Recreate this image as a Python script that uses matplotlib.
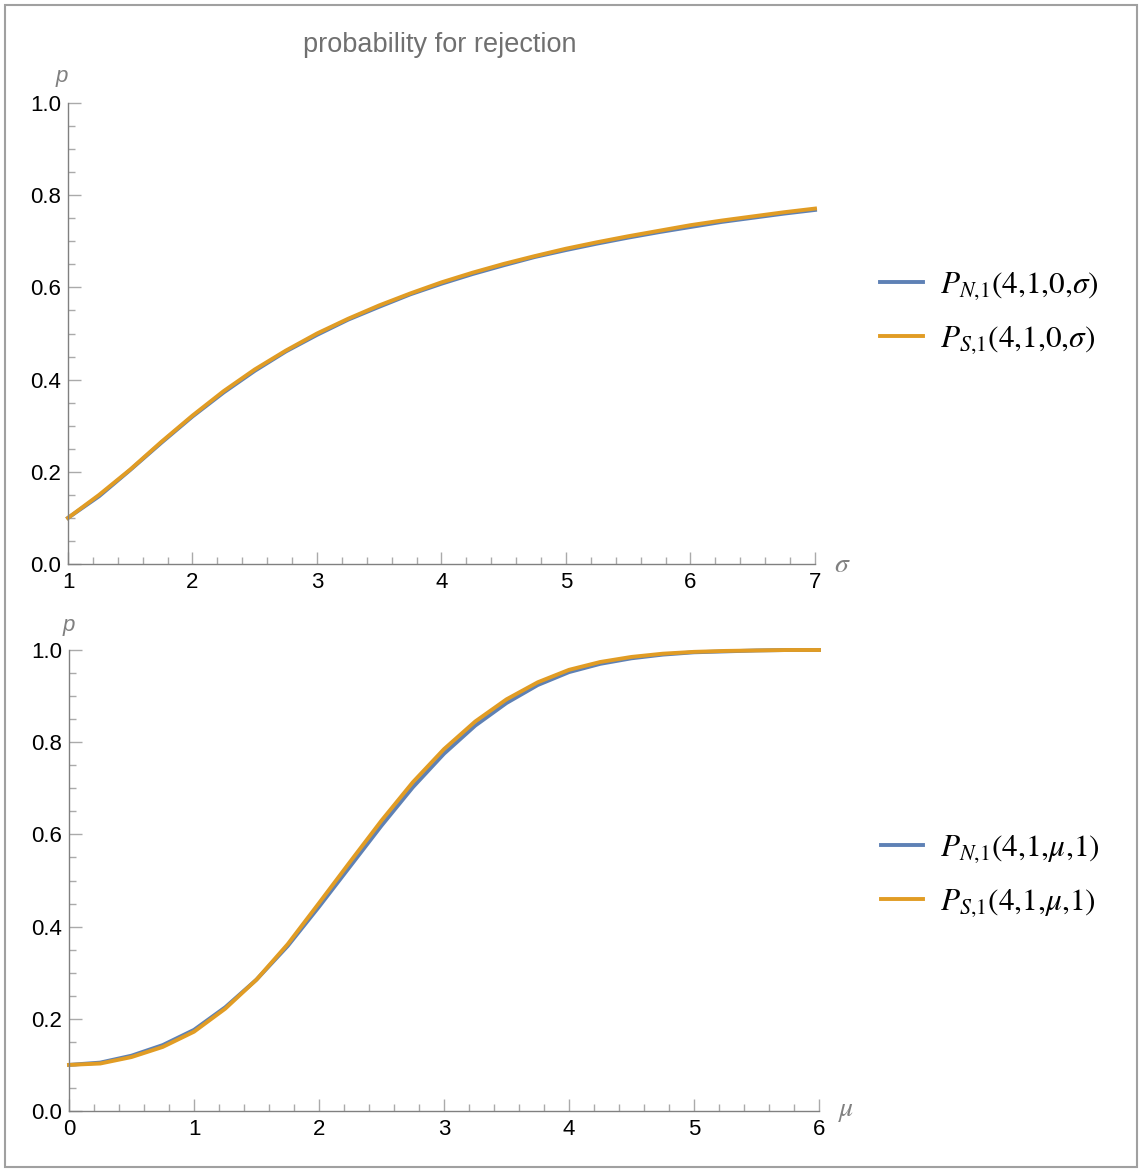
import matplotlib
matplotlib.use("Agg")
import matplotlib.pyplot as plt
from matplotlib.patches import Rectangle
from matplotlib.ticker import MultipleLocator

plt.rcParams["font.family"] = ["Liberation Sans", "DejaVu Sans"]
plt.rcParams["mathtext.fontset"] = "stix"

# top panel: p vs sigma
sigma = [1.0, 1.25, 1.5, 1.75, 2.0, 2.25, 2.5, 2.75, 3.0, 3.25, 3.5, 3.75,
         4.0, 4.25, 4.5, 4.75, 5.0, 5.25, 5.5, 5.75, 6.0, 6.25, 6.5, 6.75, 7.0]
p_n_sigma = [0.100, 0.147, 0.204, 0.263, 0.320, 0.372, 0.419, 0.461, 0.497,
             0.530, 0.558, 0.585, 0.608, 0.629, 0.648, 0.666, 0.681, 0.695,
             0.708, 0.720, 0.731, 0.742, 0.751, 0.760, 0.768]
p_s_sigma = [0.100, 0.150, 0.205, 0.265, 0.322, 0.375, 0.422, 0.463, 0.500,
             0.532, 0.561, 0.587, 0.611, 0.632, 0.651, 0.668, 0.684, 0.698,
             0.711, 0.723, 0.735, 0.745, 0.754, 0.763, 0.771]

# bottom panel: p vs mu
mu = [0.0, 0.25, 0.5, 0.75, 1.0, 1.25, 1.5, 1.75, 2.0, 2.25, 2.5, 2.75, 3.0,
      3.25, 3.5, 3.75, 4.0, 4.25, 4.5, 4.75, 5.0, 5.25, 5.5, 5.75, 6.0]
p_n_mu = [0.100, 0.105, 0.120, 0.143, 0.176, 0.225, 0.285, 0.358, 0.443, 0.531,
          0.619, 0.702, 0.775, 0.836, 0.885, 0.924, 0.952, 0.970, 0.982, 0.990,
          0.995, 0.997, 0.999, 1.0, 1.0]
p_s_mu = [0.100, 0.103, 0.117, 0.139, 0.172, 0.222, 0.285, 0.362, 0.451, 0.541,
          0.630, 0.713, 0.785, 0.845, 0.893, 0.930, 0.957, 0.974, 0.985, 0.992,
          0.996, 0.998, 0.999, 1.0, 1.0]

labels_top = [r"$P_{N{,}1}(4{,}1{,}0{,}\sigma)$", r"$P_{S{,}1}(4{,}1{,}0{,}\sigma)$"]
labels_bot = [r"$P_{N{,}1}(4{,}1{,}\mu{,}1)$", r"$P_{S{,}1}(4{,}1{,}\mu{,}1)$"]

BLUE = "#5E81B5"
ORANGE = "#E19C24"
AXC = "#808080"
W, H = 1139, 1169

fig = plt.figure(figsize=(W / 100, H / 100), dpi=100)

# outer frame
fig.patches.append(Rectangle((5 / W, 2 / H), 1132 / W, 1162 / H, transform=fig.transFigure,
                             fill=False, edgecolor="#a0a0a0", lw=1.5))


def style(ax, xmin, xmax):
    for s in ("top", "right"):
        ax.spines[s].set_visible(False)
    for s in ("left", "bottom"):
        ax.spines[s].set_color(AXC)
        ax.spines[s].set_linewidth(1.0)
    ax.set_xlim(xmin, xmax)
    ax.set_ylim(0, 1.0)
    ax.xaxis.set_major_locator(MultipleLocator(1))
    ax.xaxis.set_minor_locator(MultipleLocator(0.2))
    ax.yaxis.set_major_locator(MultipleLocator(0.2))
    ax.yaxis.set_minor_locator(MultipleLocator(0.05))
    ax.yaxis.set_major_formatter(lambda v, p: f"{v:.1f}")
    ax.tick_params(which="major", direction="in", length=9, color="#aaaaaa", width=1,
                   labelsize=16, labelcolor="black")
    ax.tick_params(which="minor", direction="in", length=5, color="#aaaaaa", width=1)
    ax.tick_params(axis="x", which="major", pad=6)
    ax.tick_params(axis="y", which="major", pad=5)


ax1 = fig.add_axes([68 / W, 1 - 564 / H, (815 - 68) / W, (564 - 103) / H])
ax1.plot(sigma, p_n_sigma, color=BLUE, lw=2.8, label=labels_top[0], clip_on=False)
ax1.plot(sigma, p_s_sigma, color=ORANGE, lw=2.8, label=labels_top[1], clip_on=False)
style(ax1, 1, 7)
ax1.text(-0.008, 1.035, "p", transform=ax1.transAxes, fontsize=16, style="italic", color=AXC,
         ha="center", va="bottom")
ax1.text(1.025, -0.002, r"$\sigma$", transform=ax1.transAxes, fontsize=20, color=AXC,
         ha="left", va="center")
ax1.legend(loc="center left", bbox_to_anchor=(1.05, 0.544), frameon=False, fontsize=22.5,
           handlelength=1.35, labelspacing=0.7, handletextpad=0.55)

ax2 = fig.add_axes([69 / W, 1 - 1111 / H, (819 - 69) / W, (1111 - 650) / H])
ax2.plot(mu, p_n_mu, color=BLUE, lw=2.8, label=labels_bot[0], clip_on=False)
ax2.plot(mu, p_s_mu, color=ORANGE, lw=2.8, label=labels_bot[1], clip_on=False)
style(ax2, 0, 6)
ax2.text(0.0, 1.03, "p", transform=ax2.transAxes, fontsize=16, style="italic", color=AXC,
         ha="center", va="bottom")
ax2.text(1.025, 0.0, r"$\mu$", transform=ax2.transAxes, fontsize=20, color=AXC,
         ha="left", va="center")
ax2.legend(loc="center left", bbox_to_anchor=(1.045, 0.51), frameon=False, fontsize=22.5,
           handlelength=1.35, labelspacing=0.7, handletextpad=0.55)

fig.text(440 / W, 1 - 45 / H, "probability for rejection", fontsize=19.5, color="#707070",
         ha="center", va="center")

fig.savefig("out.png", dpi=100)
